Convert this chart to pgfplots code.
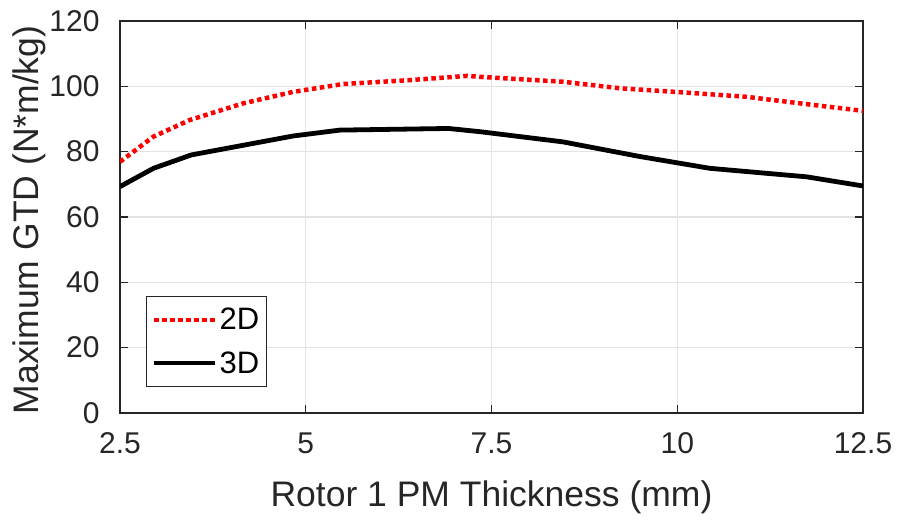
\documentclass[border=0pt]{standalone}
\usepackage{fontspec}
\setmainfont{Liberation Sans}
\usepackage{pgfplots}
\pgfplotsset{compat=1.18}
\definecolor{axgray}{HTML}{262626}
\definecolor{gridgray}{HTML}{E3E3E3}
\begin{document}
\begin{tikzpicture}
\begin{axis}[
  scale only axis,
  width=743pt, height=392pt,
  xmin=2.5, xmax=12.5, ymin=0, ymax=120,
  xtick={2.5,5,7.5,10,12.5},
  xticklabels={2.5,5,7.5,10,12.5},
  ytick={0,20,...,120},
  /pgf/number format/assume math mode=true,
  tick label style={font=\fontsize{30}{33}\selectfont, text=axgray},
  xticklabel style={yshift=-16pt},
  yticklabel style={xshift=-17pt},
  label style={font=\fontsize{35.5}{38}\selectfont, text=axgray},
  xlabel={Rotor 1 PM Thickness (mm)},
  ylabel={Maximum GTD (N*m/kg)},
  xlabel style={at={(rel axis cs:0.5,0)}, anchor=center, yshift=-84pt},
  ylabel style={at={(rel axis cs:0,0.5)}, anchor=center, yshift=91pt, xshift=-3pt},
  axis line style={axgray, line width=1.2pt},
  tick style={axgray, line width=1.2pt},
  major tick length=8pt,
  tick align=inside,
  xtick pos=both, ytick pos=both,
  grid=major,
  major grid style={gridgray, line width=1.2pt},
  legend style={at={(0.035,0.066)}, anchor=south west,
    draw=axgray, line width=1.2pt, fill=white,
    font=\fontsize{31}{34}\selectfont, text=black,
    inner xsep=5pt, inner ysep=10pt, row sep=16pt},
  legend cell align=left,
  legend image code/.code={
    \draw[#1] (0cm,0cm) -- (2.15cm,0cm);
  },
]
\addplot[red, line width=4.5pt, dash pattern=on 4.5pt off 3.5pt] coordinates {
  (2.5,76.9) (2.95,84.6) (3.44,89.7) (4.16,94.8) (4.83,98.3) (5.5,100.7)
  (6.4,101.9) (7.17,103.2) (7.35,102.9) (8.46,101.4) (9.23,99.4)
  (10.04,98.2) (10.93,96.8) (11.83,94.3) (12.5,92.5)
};
\addlegendentry{2D}
\addplot[black, line width=4.8pt, line join=round] coordinates {
  (2.5,69.3) (2.95,74.9) (3.46,79.0) (4.83,84.8) (5.46,86.6) (6.92,87.1)
  (7.35,86.1) (8.46,83.0) (9.5,78.5) (10.44,74.9) (11.74,72.3) (12.5,69.5)
};
\addlegendentry{3D}
\end{axis}
% page frame: margins around the axis box
\pgfresetboundingbox
\useasboundingbox ([xshift=-120pt,yshift=-106pt]current axis.south west)
  rectangle ([xshift=35pt,yshift=21pt]current axis.north east);
\end{tikzpicture}
\end{document}
